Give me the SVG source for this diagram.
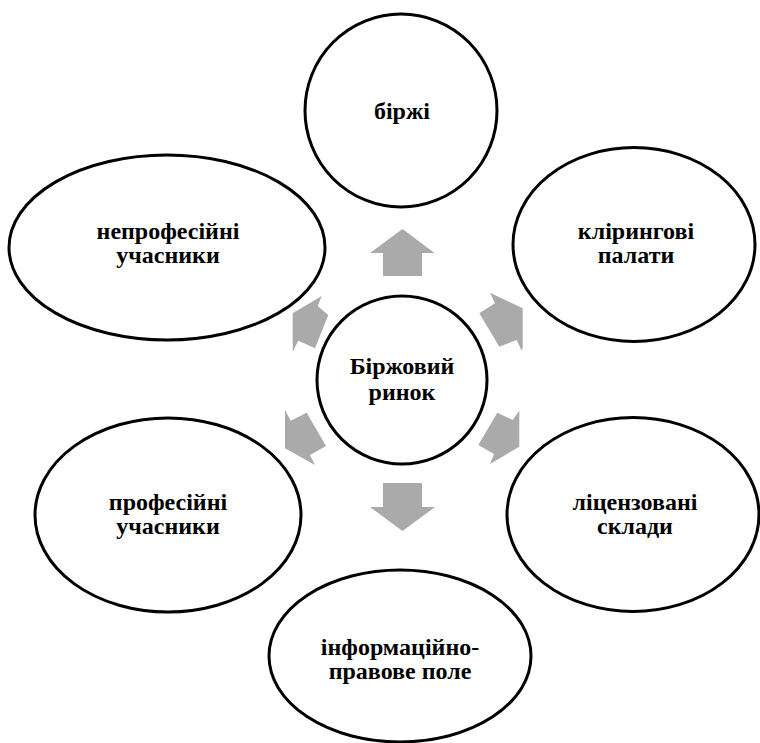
<svg xmlns="http://www.w3.org/2000/svg" width="760" height="743" viewBox="0 0 760 743" font-family="'Liberation Serif', 'Times New Roman', serif">
<style>
.node ellipse{fill:#ffffff;stroke:#000000;stroke-width:3}
.node text{font-family:'Liberation Serif','Times New Roman',serif;font-weight:bold;font-size:24px;fill:#000000;text-anchor:middle}
.arrow{fill:#aaaaaa;stroke:none}
</style>
<rect width="760" height="743" fill="#ffffff"/>
<g id="connectors">
<polygon class="arrow" points="402.5,229 434.5,253 422,253 422,276 383,276 383,253 370,253"/>
<polygon class="arrow" points="383,483 422,483 422,507 435,507 402.5,531 370,507 383,507"/>
<polygon class="arrow" points="321.7,296 317.7,306 328.3,315 315,348.3 298.3,340.7 292.7,351.7 292.7,313.3"/>
<polygon class="arrow" points="490,292.7 495,303.3 479.3,313.3 499.3,346.7 516.7,340 521.7,350.7 522.7,348 522.7,308.3"/>
<polygon class="arrow" points="285,410 290.7,420.7 306.7,412.7 326,446 310,455 315,465 285,448.3"/>
<polygon class="arrow" points="519.3,410.7 512.7,420 497.3,412.7 478.3,445 494,454 490,464 519.3,446.7"/>
</g>
<g id="node-birzhi" class="node">
<ellipse cx="401" cy="110.5" rx="96" ry="96.5"/>
<text x="402" y="118.5">біржі</text>
</g>
<g id="node-center" class="node">
<ellipse cx="402" cy="380" rx="85" ry="84"/>
<text x="402" y="374">Біржовий</text>
<text x="402" y="400">ринок</text>
</g>
<g id="node-neprof" class="node">
<ellipse cx="167" cy="247.5" rx="158" ry="92.5"/>
<text x="168" y="239">непрофесійні</text>
<text x="168" y="263">учасники</text>
</g>
<g id="node-kliring" class="node">
<ellipse cx="634" cy="244.5" rx="121" ry="97"/>
<text x="636" y="239">клірингові</text>
<text x="636" y="263">палати</text>
</g>
<g id="node-prof" class="node">
<ellipse cx="168" cy="515" rx="133" ry="97"/>
<text x="168" y="510">професійні</text>
<text x="168" y="534">учасники</text>
</g>
<g id="node-licenz" class="node">
<ellipse cx="633" cy="514.5" rx="126" ry="97"/>
<text x="635" y="510">ліцензовані</text>
<text x="635" y="534">склади</text>
</g>
<g id="node-info" class="node">
<ellipse cx="400" cy="656" rx="131" ry="86"/>
<text x="400" y="655">інформаційно-</text>
<text x="400" y="679">правове поле</text>
</g>
</svg>
